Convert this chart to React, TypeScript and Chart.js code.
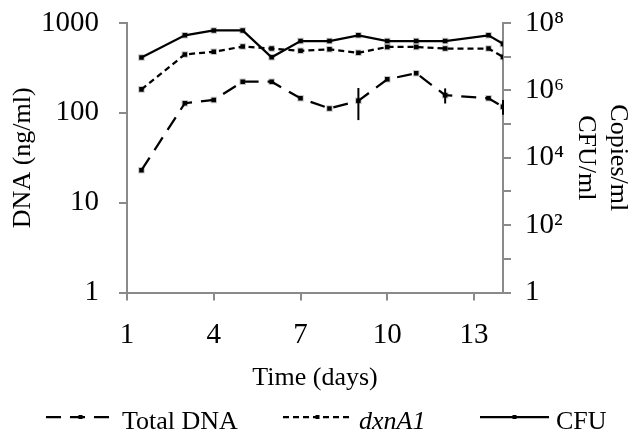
import React, { useEffect, useRef } from 'react';
import { Chart, registerables } from 'chart.js';

Chart.register(...registerables);

// ---- data ----
const days = [1.5, 3, 4, 5, 6, 7, 8, 9, 10, 11, 12, 13.5, 14];
const totalDna = [23, 128, 139, 222, 222, 145, 112, 136, 236, 276, 157, 145, 117];
const totalDnaErr = [0, 0, 0, 0, 0, 0, 0, 53, 0, 0, 30, 0, 22];
const dxnA1 = [1.07e6, 1.17e7, 1.4e7, 2.0e7, 1.74e7, 1.5e7, 1.65e7, 1.3e7, 1.94e7, 1.94e7, 1.74e7, 1.74e7, 9.8e6];
const cfu = [9.5e6, 4.3e7, 6.0e7, 6.0e7, 9.6e6, 2.9e7, 2.9e7, 4.3e7, 2.9e7, 2.9e7, 2.9e7, 4.3e7, 2.4e7];

const xTicks = [1, 4, 7, 10, 13];
const leftTicks = [1, 10, 100, 1000];
const rightTicks = [1, 1e1, 1e2, 1e3, 1e4, 1e5, 1e6, 1e7, 1e8];
const rightTickLabels = ['1', '', '10²', '', '10⁴', '', '10⁶', '', '10⁸'];
const seriesLabels = ['Total DNA', 'dxnA1', 'CFU'];
const legendItalic = [false, true, false];

const FONT = '"Liberation Serif", "Times New Roman", serif';
const AXIS_COLOR = '#8a8a8a';

const legendStarts = [46, 283, 480];
const SAMPLE_W = 69;

const errorBarPlugin = {
  id: 'errorBars',
  afterDatasetsDraw(chart: any) {
    const ctx = chart.ctx;
    const xs = chart.scales.x;
    const ys = chart.scales.y;
    ctx.save();
    ctx.strokeStyle = '#000';
    ctx.lineWidth = 2;
    totalDnaErr.forEach((e, i) => {
      if (!e) return;
      const x = xs.getPixelForValue(days[i]);
      const y1 = ys.getPixelForValue(totalDna[i] + e);
      const y2 = ys.getPixelForValue(totalDna[i] - e);
      ctx.beginPath();
      ctx.moveTo(x, y1);
      ctx.lineTo(x, y2);
      ctx.stroke();
    });
    ctx.restore();
  },
};

const legendPlugin = {
  id: 'manualLegend',
  afterDraw(chart: any) {
    const ctx = chart.ctx;
    const lineY = 417;
    chart.data.datasets.forEach((ds: any, i: number) => {
      const x0 = legendStarts[i];
      ctx.save();
      ctx.strokeStyle = '#000';
      ctx.lineWidth = ds.borderWidth;
      ctx.setLineDash(ds.borderDash || []);
      ctx.beginPath();
      ctx.moveTo(x0, lineY);
      ctx.lineTo(x0 + SAMPLE_W, lineY);
      ctx.stroke();
      ctx.setLineDash([]);
      ctx.fillStyle = '#000';
      ctx.fillRect(x0 + SAMPLE_W / 2 - 2, lineY - 2, 4, 4);
      ctx.font = `${legendItalic[i] ? 'italic ' : ''}26px ${FONT}`;
      ctx.textBaseline = 'alphabetic';
      ctx.textAlign = 'left';
      ctx.fillText(ds.label, x0 + SAMPLE_W + 7, 429);
      ctx.restore();
    });
  },
};

export default function App() {
  const ref = useRef<HTMLCanvasElement | null>(null);

  useEffect(() => {
    if (!ref.current) return;
    const pointCommon = {
      pointStyle: 'rect',
      pointRadius: 3.2,
      pointBackgroundColor: '#000',
      pointBorderColor: 'rgba(0,0,0,0.22)',
      pointBorderWidth: 2,
      borderColor: '#000',
      backgroundColor: '#000',
      fill: false,
      tension: 0,
    };
    const chart = new Chart(ref.current, {
      type: 'line',
      data: {
        datasets: [
          {
            ...pointCommon,
            label: seriesLabels[0],
            data: days.map((d, i) => ({ x: d, y: totalDna[i] })),
            yAxisID: 'y',
            borderWidth: 2.25,
            borderDash: [15, 9],
          },
          {
            ...pointCommon,
            label: seriesLabels[1],
            data: days.map((d, i) => ({ x: d, y: dxnA1[i] })),
            yAxisID: 'y1',
            borderWidth: 2.25,
            borderDash: [6, 4],
          },
          {
            ...pointCommon,
            label: seriesLabels[2],
            data: days.map((d, i) => ({ x: d, y: cfu[i] })),
            yAxisID: 'y1',
            borderWidth: 2.25,
            borderDash: [],
          },
        ] as any,
      },
      options: {
        animation: false,
        responsive: false,
        devicePixelRatio: 1,
        layout: { padding: { top: 23, left: 0, right: 0, bottom: 38 } },
        plugins: {
          legend: { display: false },
          tooltip: { enabled: false },
        },
        scales: {
          x: {
            type: 'linear',
            min: 1,
            max: 14,
            afterBuildTicks: (s: any) => {
              s.ticks = xTicks.map((v) => ({ value: v }));
            },
            afterFit: (s: any) => {
              s.height = 101.5;
              s.paddingLeft = 0;
              s.paddingRight = 0;
            },
            border: { color: AXIS_COLOR, width: 2 },
            grid: { drawOnChartArea: false, color: AXIS_COLOR, lineWidth: 2, tickLength: 8 },
            ticks: {
              autoSkip: false,
              maxRotation: 0,
              padding: 17,
              color: '#000',
              font: { family: FONT, size: 29 },
              callback: (v: any) => String(v),
            },
            title: {
              display: true,
              text: 'Time (days)',
              color: '#000',
              font: { family: FONT, size: 26 },
              padding: { top: 0, bottom: 0 },
            },
          },
          y: {
            type: 'logarithmic',
            position: 'left',
            min: 1,
            max: 1000,
            afterBuildTicks: (s: any) => {
              s.ticks = leftTicks.map((v) => ({ value: v }));
            },
            afterFit: (s: any) => {
              s.width = 127;
              s.paddingTop = 0;
              s.paddingBottom = 0;
            },
            border: { color: AXIS_COLOR, width: 2 },
            grid: { drawOnChartArea: false, color: AXIS_COLOR, lineWidth: 2, tickLength: 8 },
            ticks: {
              autoSkip: false,
              padding: 20,
              color: '#000',
              font: { family: FONT, size: 29 },
              callback: (v: any) => String(v),
            },
            title: {
              display: true,
              text: 'DNA (ng/ml)',
              color: '#000',
              font: { family: FONT, size: 26 },
              padding: { top: 8, bottom: 0 },
            },
          },
          y1: {
            type: 'logarithmic',
            position: 'right',
            min: 1,
            max: 1e8,
            afterBuildTicks: (s: any) => {
              s.ticks = rightTicks.map((v) => ({ value: v }));
            },
            afterFit: (s: any) => {
              s.width = 130;
              s.paddingTop = 0;
              s.paddingBottom = 0;
            },
            border: { color: AXIS_COLOR, width: 2 },
            grid: { drawOnChartArea: false, color: AXIS_COLOR, lineWidth: 2, tickLength: 8 },
            ticks: {
              autoSkip: false,
              padding: 14,
              color: '#000',
              font: { family: FONT, size: 29 },
              callback: (_v: any, i: number) => rightTickLabels[i],
            },
            title: {
              display: true,
              text: ['Copies/ml', 'CFU/ml'],
              color: '#000',
              font: { family: FONT, size: 26 },
              padding: { top: 0, bottom: 0 },
            },
          },
        },
      } as any,
      plugins: [errorBarPlugin, legendPlugin],
    });
    return () => chart.destroy();
  }, []);

  return (
    <div style={{ position: 'fixed', left: 0, top: 0, width: 633, height: 432, background: '#fff' }}>
      <canvas ref={ref} width={633} height={432} style={{ display: 'block' }} />
    </div>
  );
}
